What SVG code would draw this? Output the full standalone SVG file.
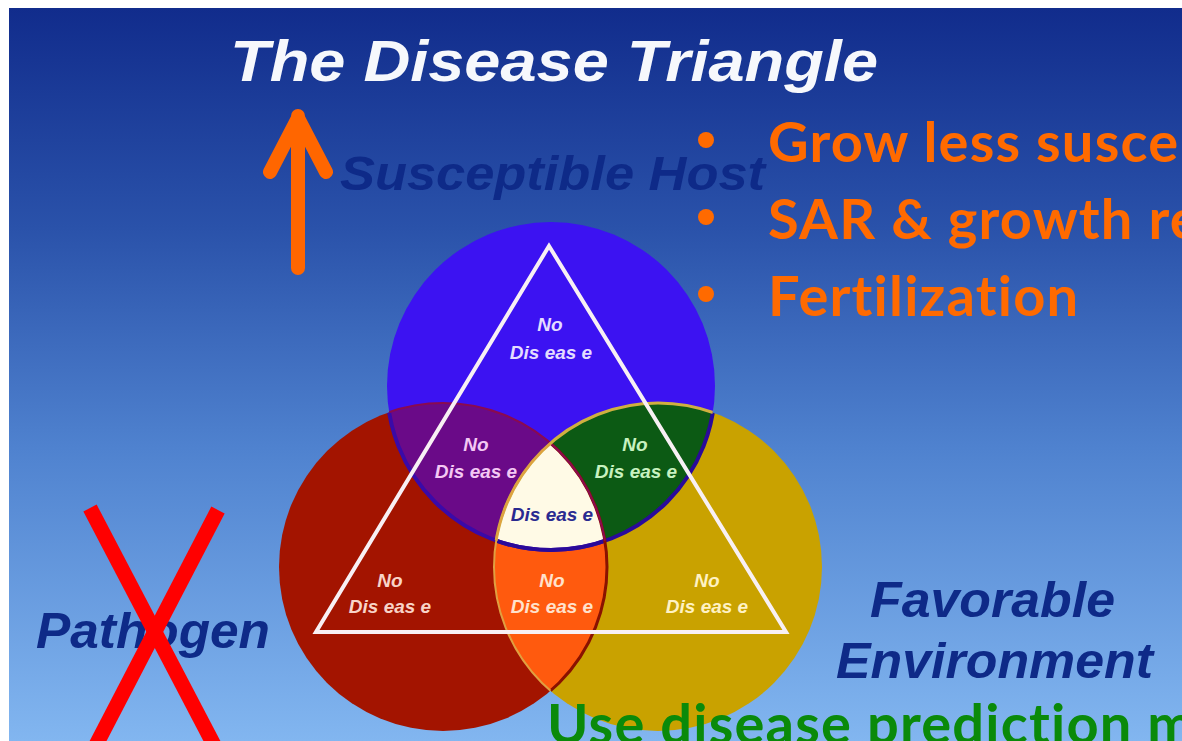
<svg xmlns="http://www.w3.org/2000/svg" width="1182" height="741" viewBox="0 0 1182 741">
  <defs>
    <linearGradient id="bg" x1="0" y1="0" x2="0" y2="1">
      <stop offset="0" stop-color="#112c8c"/>
      <stop offset="0.3" stop-color="#2a52aa"/>
      <stop offset="0.6" stop-color="#4f82cf"/>
      <stop offset="1" stop-color="#82b6f0"/>
    </linearGradient>
    <clipPath id="clipBlue"><circle cx="551" cy="386" r="164"/></clipPath>
    <clipPath id="clipRed"><circle cx="443" cy="567" r="164"/></clipPath>
    <clipPath id="clipYellow"><circle cx="658" cy="567" r="164"/></clipPath>
    <style>
      .head { font-family: "Liberation Sans", Arial, sans-serif; font-weight: bold; font-style: italic; }
      .navy { fill: #0e2a88; }
      .lbl { font-family: "Liberation Sans", Arial, sans-serif; font-weight: bold; font-style: italic; font-size: 19px; text-anchor: middle; }
      .bul { font-family: Lato, "Open Sans", sans-serif; font-weight: bold; fill: #ff6a00; font-size: 56px; letter-spacing: 1.2px; font-variant-ligatures: none; }
      .arrow { fill: none; stroke: #ff6600; stroke-width: 14; stroke-linecap: round; stroke-linejoin: round; }
      .cross { stroke: #ff0000; stroke-width: 15; }
    </style>
  </defs>

  <!-- page margin and slide background -->
  <rect width="1182" height="741" fill="#ffffff"/>
  <rect x="9" y="8" width="1173" height="733" fill="url(#bg)"/>

  <!-- title -->
  <text class="head" x="230" y="81" font-size="57" fill="#f6f8fc" textLength="648" lengthAdjust="spacingAndGlyphs">The Disease Triangle</text>

  <!-- three overlapping circles -->
  <g id="venn">
    <circle cx="443" cy="567" r="164" fill="#a31400"/>
    <circle cx="658" cy="567" r="164" fill="#c9a200"/>
    <circle cx="551" cy="386" r="164" fill="#3c12f2"/>
    <!-- host ∩ pathogen -->
    <g clip-path="url(#clipBlue)"><circle cx="443" cy="567" r="164" fill="#6a0a88"/></g>
    <!-- host ∩ environment -->
    <g clip-path="url(#clipBlue)"><circle cx="658" cy="567" r="164" fill="#0c5a14"/></g>
    <!-- pathogen ∩ environment -->
    <g clip-path="url(#clipRed)"><circle cx="658" cy="567" r="164" fill="#ff5a0e"/></g>
    <!-- all three -->
    <g clip-path="url(#clipBlue)"><g clip-path="url(#clipRed)"><circle cx="658" cy="567" r="164" fill="#fffae6"/></g></g>
    <!-- inner rims -->
    <g clip-path="url(#clipRed)"><circle cx="551" cy="386" r="164" fill="none" stroke="#3a0aa8" stroke-width="4"/></g>
    <g clip-path="url(#clipYellow)"><circle cx="551" cy="386" r="164" fill="none" stroke="#2a0a9a" stroke-width="4"/></g>
    <g clip-path="url(#clipYellow)"><circle cx="443" cy="567" r="164" fill="none" stroke="#8a1200" stroke-width="3"/></g>
    <g clip-path="url(#clipBlue)"><circle cx="443" cy="567" r="164" fill="none" stroke="#8a0a50" stroke-width="2"/></g>
    <g clip-path="url(#clipBlue)"><circle cx="658" cy="567" r="164" fill="none" stroke="#d0b040" stroke-width="3"/></g>
    <g clip-path="url(#clipRed)"><circle cx="658" cy="567" r="164" fill="none" stroke="#e0a040" stroke-width="2"/></g>
  </g>

  <!-- triangle -->
  <g id="triangle">
    <polygon points="549,246 316,632 786,632" fill="none" stroke="#f8f0f4" stroke-width="4" stroke-linejoin="miter"/>
  </g>

  <!-- region labels -->
  <g id="labels">
    <g id="host-only" fill="#e4dcff">
      <text class="lbl" x="550" y="331">No</text>
      <text class="lbl" x="551" y="359">Dis eas e</text>
    </g>
    <g id="host-pathogen" fill="#f4c8f4">
      <text class="lbl" x="476" y="451">No</text>
      <text class="lbl" x="476" y="478">Dis eas e</text>
    </g>
    <g id="host-environment" fill="#c8f2c0">
      <text class="lbl" x="635" y="451">No</text>
      <text class="lbl" x="636" y="478">Dis eas e</text>
    </g>
    <g id="all-three" fill="#2a2a90">
      <text class="lbl" x="552" y="521">Dis eas e</text>
    </g>
    <g id="pathogen-only" fill="#f8d4c8">
      <text class="lbl" x="390" y="587">No</text>
      <text class="lbl" x="390" y="613">Dis eas e</text>
    </g>
    <g id="pathogen-environment" fill="#ffe2cc">
      <text class="lbl" x="552" y="587">No</text>
      <text class="lbl" x="552" y="613">Dis eas e</text>
    </g>
    <g id="environment-only" fill="#fff2c4">
      <text class="lbl" x="707" y="587">No</text>
      <text class="lbl" x="707" y="613">Dis eas e</text>
    </g>
  </g>

  <!-- circle captions -->
  <g id="captions" class="navy">
    <text class="head" x="340" y="190" font-size="48" textLength="425" lengthAdjust="spacingAndGlyphs">Susceptible Host</text>
    <text class="head" x="36" y="648" font-size="50" textLength="234" lengthAdjust="spacingAndGlyphs">Pathogen</text>
    <text class="head" x="870" y="617" font-size="50" textLength="245" lengthAdjust="spacingAndGlyphs">Favorable</text>
    <text class="head" x="836" y="678" font-size="50" textLength="317" lengthAdjust="spacingAndGlyphs">Environment</text>
  </g>

  <!-- up arrow beside host -->
  <g id="arrow-up">
    <path class="arrow" d="M298,268 V116 M270,172 L298,118 L326,172"/>
  </g>

  <!-- cross over pathogen -->
  <g id="cross">
    <line class="cross" x1="90" y1="508" x2="214" y2="745"/>
    <line class="cross" x1="218" y1="510" x2="96" y2="745"/>
  </g>

  <!-- host measures -->
  <g id="measures">
    <circle cx="706" cy="140" r="8" fill="#ff6a00"/>
    <circle cx="706" cy="217" r="8" fill="#ff6a00"/>
    <circle cx="706" cy="294" r="8" fill="#ff6a00"/>
    <text class="bul" x="768" y="162">Grow less suscep</text>
    <text class="bul" x="768" y="239">SAR &amp; growth re</text>
    <text class="bul" x="768" y="316">Fertilization</text>
  </g>

  <!-- environment measure -->
  <text id="prediction" class="bul" x="547" y="744" fill="#0a8a0a" style="fill:#0a8a0a">Use disease prediction m</text>
</svg>
